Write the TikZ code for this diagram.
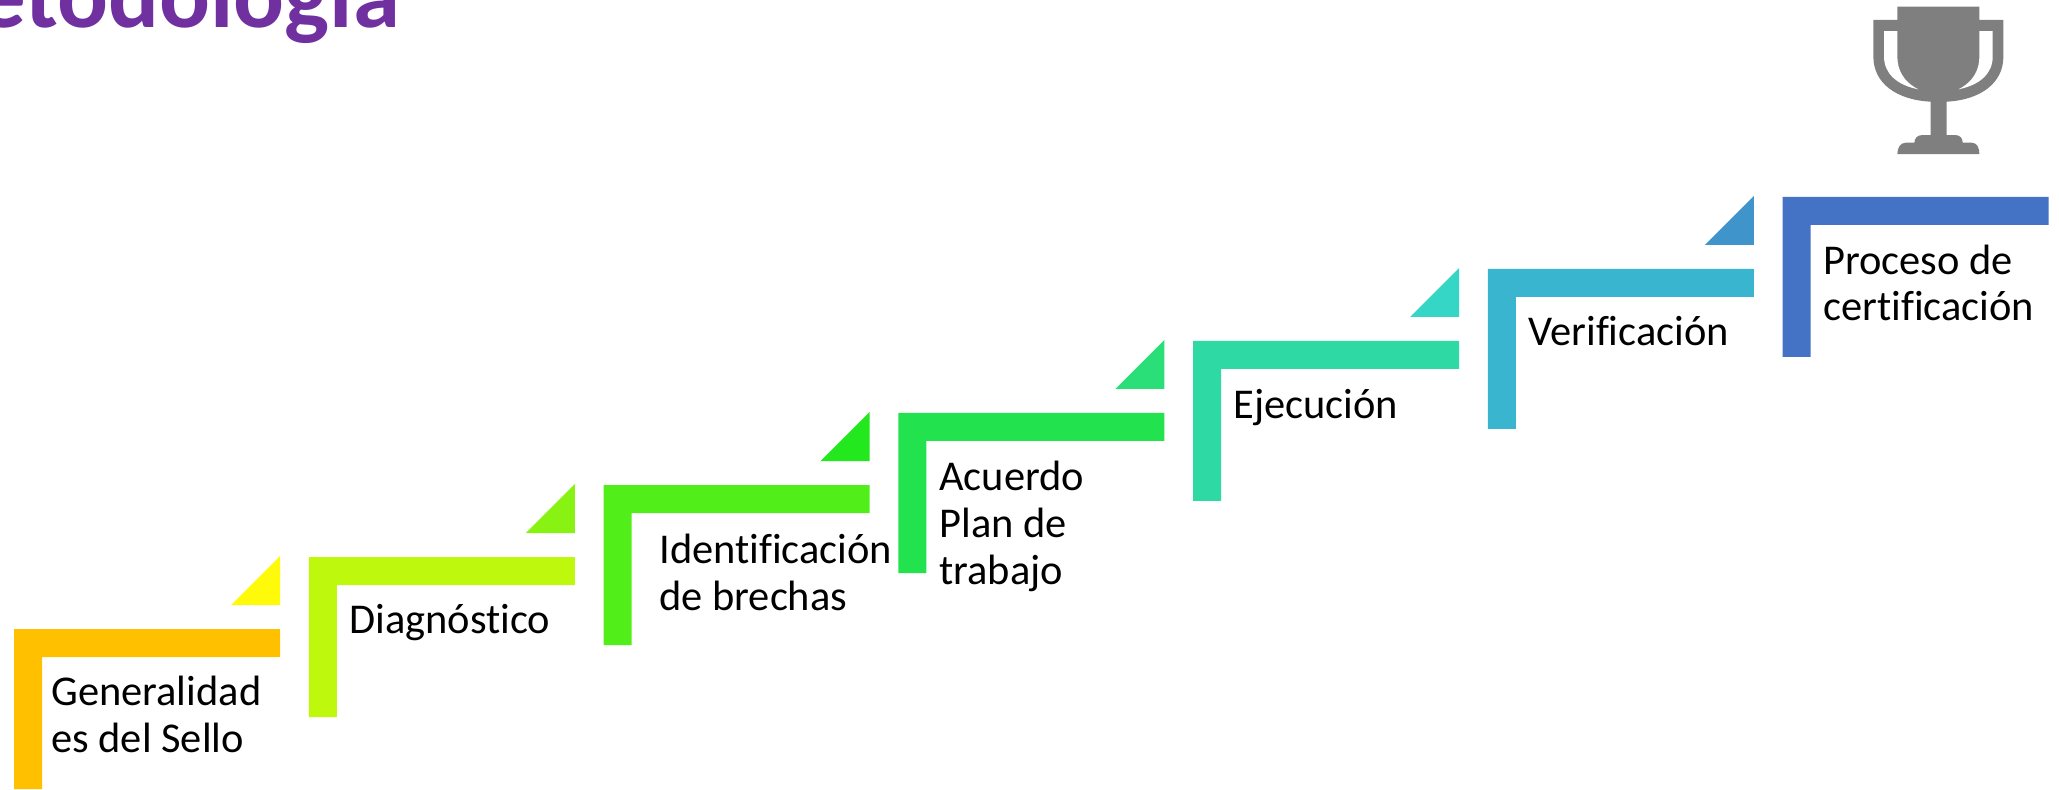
\documentclass[tikz,border=0pt]{standalone}
\usepackage{fontspec}
\setmainfont{Carlito}[Ligatures=NoCommon]
\usepackage{xcolor}
\definecolor{titlepurple}{RGB}{112, 48, 160}
\definecolor{trophygray}{RGB}{127, 127, 127}
\definecolor{stepa}{RGB}{255, 192, 0}
\definecolor{stepb}{RGB}{190, 248, 13}
\definecolor{stepc}{RGB}{82, 238, 26}
\definecolor{stepd}{RGB}{34, 227, 78}
\definecolor{stepe}{RGB}{47, 217, 164}
\definecolor{stepf}{RGB}{58, 181, 207}
\definecolor{stepg}{RGB}{68, 114, 196}
\definecolor{tria}{RGB}{255, 249, 10}
\definecolor{trib}{RGB}{136, 242, 19}
\definecolor{tric}{RGB}{34, 232, 29}
\definecolor{trid}{RGB}{42, 223, 120}
\definecolor{trie}{RGB}{54, 214, 199}
\definecolor{trif}{RGB}{63, 148, 203}
\tikzset{
  steplabel/.style={anchor=base west, inner sep=0pt, align=left, font=\fontsize{24.15}{26.7}\selectfont},
  titlelabel/.style={anchor=base east, inner sep=0pt, text=titlepurple, font=\fontsize{54}{60}\selectfont\bfseries}
}

\begin{document}
\begin{tikzpicture}
    \useasboundingbox (0,0) rectangle (41.18,15.78);

    % Title
    \node[titlelabel] (title) at (8.0,15.22) {Metodología};

    % Stairs
    \foreach \i/\col in {0/stepa,1/stepb,2/stepc,3/stepd,4/stepe,5/stepf,6/stepg}
        \fill[\col] ({0.28+5.895*\i},{3.2+1.44*\i}) -- ++(5.32,0) -- ++(0,-0.56) -- ++(-4.76,0) -- ++(0,-2.64) -- ++(-0.56,0) -- cycle;

    % Corner triangles
    \foreach \i/\col in {0/tria,1/trib,2/tric,3/trid,4/trie,5/trif}
        \fill[\col] ({5.6+5.895*\i},{3.68+1.44*\i}) -- ++(0,0.98) -- ++(-0.98,-0.98) -- cycle;

    % Labels
    \node[steplabel] (generalidades) at (1.02,0.74) {Generalidad\\es del Sello};
    \node[steplabel] (diagnostico) at (6.98,3.12) {Diagnóstico};
    \node[steplabel] (brechas) at (13.18,3.58) {Identificación\\de brechas};
    \node[steplabel] (acuerdo) at (18.78,4.1) {Acuerdo\\Plan de\\trabajo};
    \node[steplabel] (ejecucion) at (24.66,7.42) {Ejecución};
    \node[steplabel] (verificacion) at (30.56,8.86) {Verificación};
    \node[steplabel] (certificacion) at (36.46,9.36) {Proceso de\\certificación};

    % Trophy
    \begin{scope}[shift={(34.8,15.78)},x=0.006667cm,y=-0.006667cm]
        \fill[trophygray] (472,20) -- (718,20) -- (718,60) -- (790,60) -- (790,170)
            .. controls (790,250) and (720,300) .. (620,305) -- (620,405) -- (645,405)
            .. controls (660,405) and (668,415) .. (668,428) -- (695,428)
            .. controls (712,428) and (718,445) .. (718,462) -- (472,462)
            .. controls (472,445) and (480,428) .. (497,428) -- (523,428)
            .. controls (523,415) and (532,405) .. (547,405) -- (572,405) -- (572,305)
            .. controls (470,300) and (400,250) .. (400,170) -- (400,60) -- (472,60) -- cycle;
        \fill[white] (432,93) -- (472,93) -- (472,170) .. controls (472,210) and (490,245) .. (535,268)
            .. controls (470,255) and (432,220) .. (432,170) -- cycle;
        \fill[white] (758,93) -- (718,93) -- (718,170) .. controls (718,210) and (700,245) .. (655,268)
            .. controls (720,255) and (758,220) .. (758,170) -- cycle;
    \end{scope}
\end{tikzpicture}
\end{document}
